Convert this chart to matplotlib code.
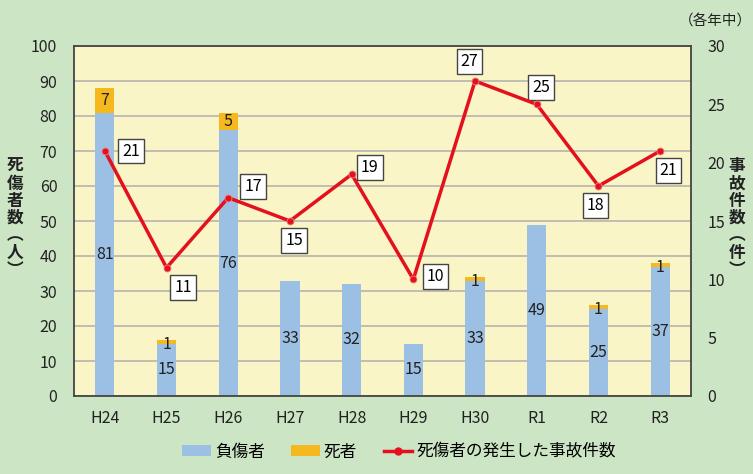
import matplotlib.pyplot as plt
import numpy as np
from matplotlib.patches import Patch
from matplotlib.lines import Line2D

plt.rcParams['font.family'] = ['Noto Sans CJK JP', 'DejaVu Sans']
plt.rcParams['font.size'] = 11

years = ["H24", "H25", "H26", "H27", "H28", "H29", "H30", "R1", "R2", "R3"]
injured = [81, 15, 76, 33, 32, 15, 33, 49, 25, 37]
deaths = [7, 1, 5, 0, 0, 0, 1, 0, 1, 1]
accidents = [21, 11, 17, 15, 19, 10, 27, 25, 18, 21]
# label box offsets (points) for the accident counts
box_offsets = [(19, 0), (12, -14), (18, 8), (3, -14), (13, 5), (16, 2), (-4, 14), (3, 12), (-2, -14), (6, -14)]

bg = '#cce5c5'
blue = '#9cc0e3'
orange = '#f5b91f'
red = '#e5101d'

fig = plt.figure(figsize=(7.53, 4.74), dpi=100, facecolor=bg)
ax = fig.add_axes([74 / 753, 78 / 474, 617 / 753, 350 / 474])
ax.set_facecolor('#faf5c6')

x = np.arange(len(years))
w = 0.31
ax.bar(x, injured, width=w, color=blue, zorder=2)
ax.bar(x, deaths, width=w, bottom=injured, color=orange, zorder=2)

for i in range(len(years)):
    ax.text(x[i], injured[i] / 2, str(injured[i]), ha='center', va='center', fontsize=11.5, color='#222222', zorder=3)
    if deaths[i] > 0:
        yy = injured[i] + deaths[i] / 2
        if deaths[i] == 1:
            yy -= 0.8
        ax.text(x[i], yy, str(deaths[i]), ha='center', va='center', fontsize=11.5, color='#222222', zorder=3)

ax.set_ylim(0, 100)
ax.set_xlim(-0.5, len(years) - 0.5)
ax.set_yticks(np.arange(0, 101, 10))
ax.set_xticks(x, years)
ax.tick_params(length=0, labelsize=11.5, colors='#222222')
ax.tick_params(axis='x', pad=10)
ax.tick_params(axis='y', pad=12)
ax.grid(axis='y', color='#bdbab0', linewidth=1.3, zorder=1)
ax.set_axisbelow(True)
for s in ax.spines.values():
    s.set_color('#444444')
    s.set_linewidth(1.3)

ax2 = ax.twinx()
ax2.set_ylim(0, 30)
ax2.set_yticks(np.arange(0, 31, 5))
ax2.tick_params(length=0, labelsize=11.5, colors='#222222', pad=12)
for s in ax2.spines.values():
    s.set_visible(False)
ax2.plot(x, accidents, color=red, linewidth=2.5, marker='o', markersize=5,
         markerfacecolor=red, markeredgecolor='#f08080', markeredgewidth=0.6, zorder=4)
for i in range(len(years)):
    ax2.annotate(str(accidents[i]), (x[i], accidents[i]), xytext=box_offsets[i],
                 textcoords='offset points', ha='center', va='center', fontsize=11.5,
                 bbox=dict(boxstyle='square,pad=0.25', facecolor='white', edgecolor='#444444', linewidth=1))

fig.text(15 / 753, 1 - 218 / 474, "死\n傷\n者\n数\n︵\n人\n︶", ha='center', va='center',
         fontsize=12, fontweight='bold', linespacing=0.95, color='#222222')
fig.text(737 / 753, 1 - 218 / 474, "事\n故\n件\n数\n︵\n件\n︶", ha='center', va='center',
         fontsize=12, fontweight='bold', linespacing=0.95, color='#222222')
fig.text(715 / 753, 1 - 22 / 474, "（各年中）", ha='center', va='center', fontsize=10.5, color='#222222')

handles = [Patch(facecolor=blue), Patch(facecolor=orange),
           Line2D([0], [0], color=red, linewidth=2.5, marker='o', markersize=5)]
labels = ["負傷者", "死者", "死傷者の発生した事故件数"]
fig.legend(handles, labels, loc='center', bbox_to_anchor=(399 / 753, 1 - 452 / 474), ncol=3,
           frameon=False, fontsize=12, handlelength=1.7, handleheight=0.6, columnspacing=1.6,
           handletextpad=0.25)

plt.savefig("out.png", facecolor=bg)
